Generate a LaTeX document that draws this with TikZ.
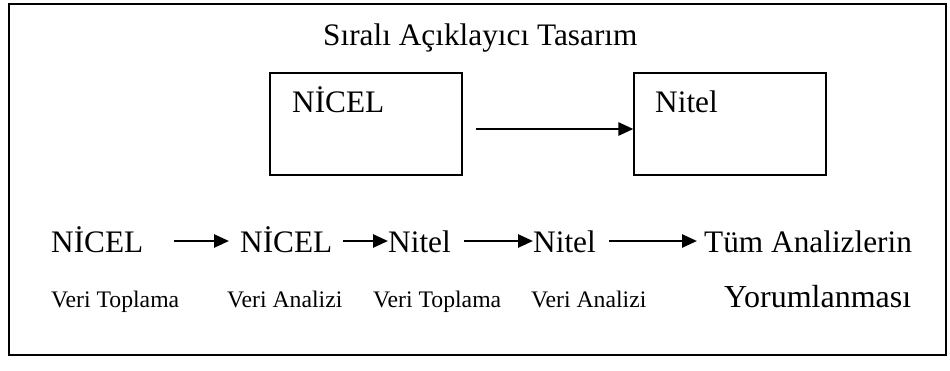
\documentclass[tikz,border=0pt]{standalone}
\usepackage{fontspec}
\setmainfont{Liberation Serif}
\usetikzlibrary{arrows.meta}
\begin{document}
\begin{tikzpicture}[x=1pt,y=-1pt,
  big/.style={inner sep=0pt,anchor=base west,font=\fontsize{31.3}{36}\selectfont},
  small/.style={inner sep=0pt,anchor=base west,font=\fontsize{23.7}{28}\selectfont},
  phasebox/.style={draw,line width=1.2pt,minimum width=192pt,minimum height=102pt,inner sep=0pt},
  arr/.style={line width=2.6pt,-{Triangle[length=15pt,width=13pt]}}]
\useasboundingbox (0,0) rectangle (950,370);
% outer frame
\draw[line width=1.5pt] (9,4) rectangle (946,355);
% title
\node[big] (title) at (323,45) {Sıralı Açıklayıcı Tasarım};
% the two phases
\node[phasebox] (b1) at (366,124) {};
\node[phasebox] (b2) at (730,124) {};
\node[big] (l1) at (292,112) {NİCEL};
\node[big] (l2) at (655,112) {Nitel};
\draw[arr,shorten <=13pt] ([yshift=-5pt]b1.east) -- ([yshift=-5pt]b2.west);
% sequence row
\node[big] (s1) at (51,252) {NİCEL};
\node[big] (s2) at (240,252) {NİCEL};
\node[big] (s3) at (388,252) {Nitel};
\node[big] (s4) at (533,252) {Nitel};
\node[big] (s5) at (704,252) {Tüm Analizlerin};
\draw[arr] ([xshift=30pt,yshift=11pt]s1.base east) -- ([xshift=-11pt,yshift=11pt]s2.base west);
\draw[arr] ([xshift=10pt,yshift=11pt]s2.base east) -- ([yshift=11pt]s3.base west);
\draw[arr] ([xshift=13pt,yshift=11pt]s3.base east) -- ([yshift=11pt]s4.base west);
\draw[arr] ([xshift=13pt,yshift=11pt]s4.base east) -- ([xshift=-7pt,yshift=11pt]s5.base west);
% step captions
\node[small] (c1) at (51,307) {Veri Toplama};
\node[small] (c2) at (227,307) {Veri Analizi};
\node[small] (c3) at (373,307) {Veri Toplama};
\node[small] (c4) at (531,307) {Veri Analizi};
\node[big,font=\fontsize{32}{36}\selectfont] (c5) at (724,307) {Yorumlanması};
\end{tikzpicture}
\end{document}
